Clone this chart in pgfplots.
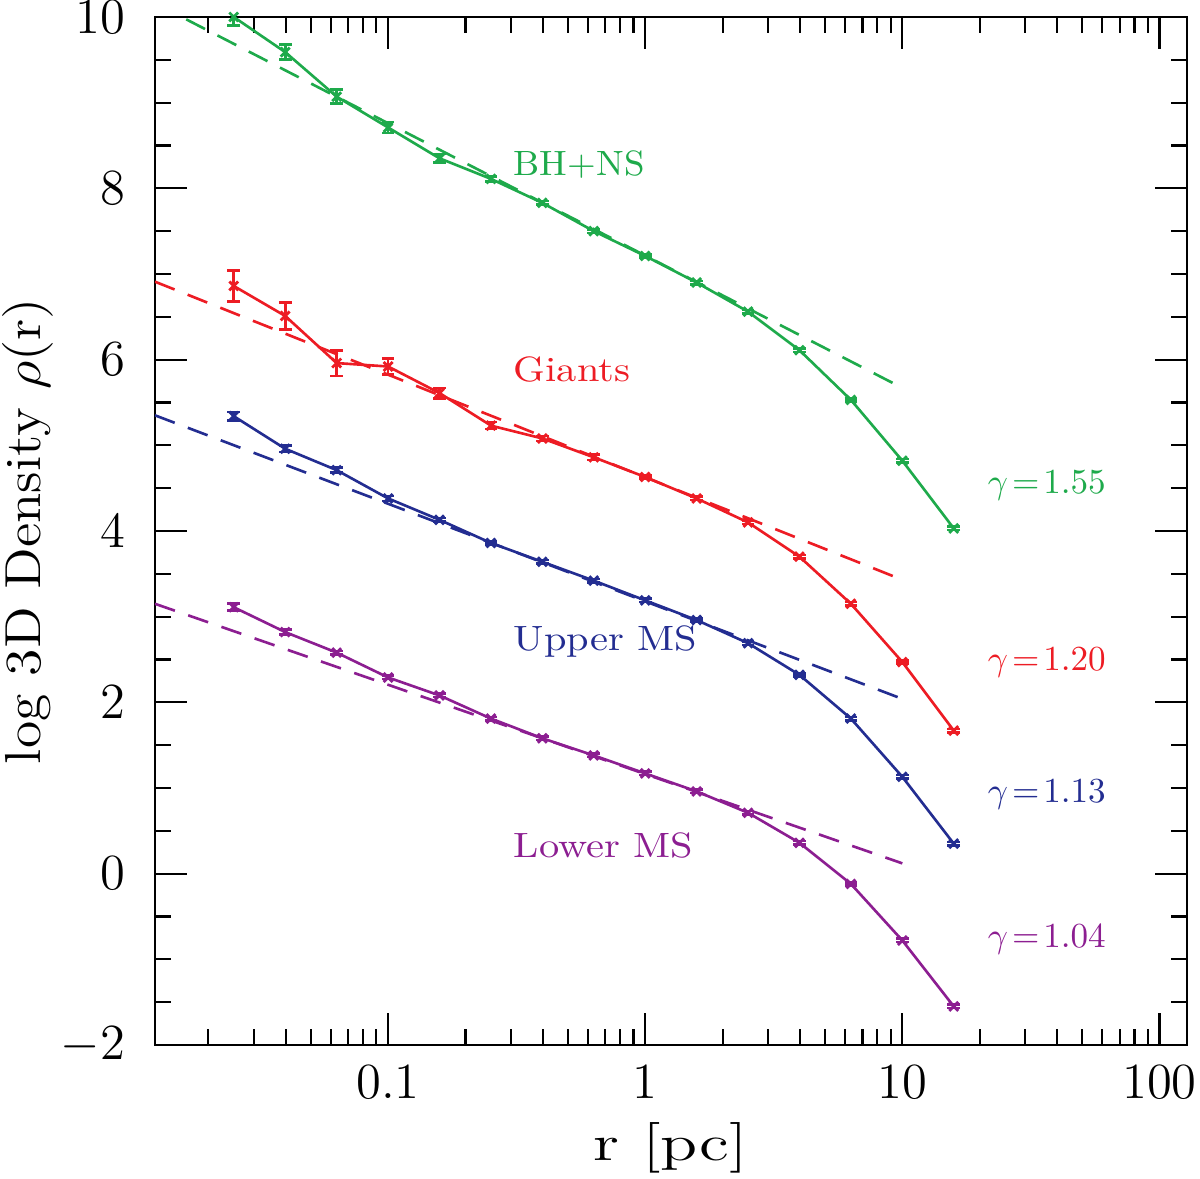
\documentclass[border=0pt]{standalone}
\usepackage{graphicx}
\usepackage{pgfplots}
\usepackage{pgfplotstable}
\pgfplotsset{compat=1.18}
\definecolor{cg}{RGB}{30,170,75}
\definecolor{cr}{RGB}{237,28,36}
\definecolor{cb}{RGB}{35,45,145}
\definecolor{cp}{RGB}{140,30,145}

\pgfplotstableread{
x y e
0.0251 10.00 0.10
0.0398 9.59 0.09
0.0631 9.07 0.08
0.1000 8.71 0.065
0.1585 8.35 0.05
0.2512 8.11 0.03
0.3981 7.83 0.02
0.6310 7.50 0.02
1.0000 7.21 0.02
1.5850 6.90 0.02
2.5120 6.56 0.02
3.9810 6.11 0.02
6.3100 5.53 0.02
10.000 4.82 0.02
15.850 4.03 0.02
}\green

\pgfplotstableread{
x y e
0.0251 6.86 0.18
0.0398 6.51 0.16
0.0631 5.96 0.15
0.1000 5.92 0.09
0.1585 5.61 0.06
0.2512 5.23 0.04
0.3981 5.08 0.03
0.6310 4.86 0.03
1.0000 4.63 0.02
1.5850 4.38 0.02
2.5120 4.10 0.02
3.9810 3.70 0.02
6.3100 3.15 0.02
10.000 2.47 0.02
15.850 1.67 0.02
}\red

\pgfplotstableread{
x y e
0.0251 5.34 0.05
0.0398 4.96 0.04
0.0631 4.71 0.03
0.1000 4.38 0.03
0.1585 4.13 0.02
0.2512 3.86 0.02
0.3981 3.64 0.02
0.6310 3.42 0.02
1.0000 3.19 0.02
1.5850 2.96 0.02
2.5120 2.69 0.02
3.9810 2.32 0.02
6.3100 1.81 0.02
10.000 1.13 0.02
15.850 0.35 0.02
}\blue

\pgfplotstableread{
x y e
0.0251 3.11 0.04
0.0398 2.82 0.03
0.0631 2.58 0.02
0.1000 2.29 0.02
0.1585 2.08 0.02
0.2512 1.81 0.02
0.3981 1.58 0.02
0.6310 1.38 0.02
1.0000 1.17 0.02
1.5850 0.96 0.02
2.5120 0.71 0.02
3.9810 0.36 0.02
6.3100 -0.12 0.02
10.000 -0.78 0.02
15.850 -1.55 0.02
}\purple

\pgfplotsset{
  prof/.style={#1, line width=0.75pt, mark=x, mark size=1.8pt,
    mark options={solid, line width=0.8pt},
    error bars/.cd, y dir=both, y explicit,
    error bar style={line width=0.75pt},
    error mark options={#1, rotate=90, mark size=1.8pt, line width=0.75pt}},
  fit/.style={#1, line width=0.75pt, dash pattern=on 6pt off 4pt},
}

\begin{document}
\begin{tikzpicture}
\useasboundingbox (-1.55cm,-1.34cm) rectangle (10.45cm,10.45cm);
\begin{axis}[
  at={(0,0)}, anchor=south west,
  scale only axis, width=10.32cm, height=10.28cm,
  xmode=log, xmin=0.0124, xmax=128, ymin=-2, ymax=10,
  xtick={0.1,1,10,100}, xticklabels={0.1,1,10,100},
  minor xtick={0.02,0.03,0.04,0.05,0.06,0.07,0.08,0.09,0.2,0.3,0.4,0.5,0.6,0.7,0.8,0.9,2,3,4,5,6,7,8,9,20,30,40,50,60,70,80,90},
  ytick={-2,0,2,4,6,8,10}, minor y tick num=3,
  tick align=inside, major tick length=9pt, minor tick length=4.5pt,
  tick style={black, line width=0.6pt},
  axis line style={line width=0.7pt},
  tick label style={font=\Large},
  yticklabel style={inner sep=0pt},
  xticklabel shift=2pt, yticklabel shift=8.3pt,
  xlabel={\scalebox{1.35}[1]{r [pc]}}, ylabel={\scalebox{1.1}[1]{log 3D Density $\rho$(r)}},
  label style={font=\Large},
  xlabel style={at={(axis description cs:0.5,-0.100)}, anchor=center},
  ylabel style={at={(axis description cs:-0.123,0.5)}, anchor=center},
  clip=true,
]
\addplot[fit=cg] coordinates {(0.0124,10.16) (10,5.67)};
\addplot[fit=cr] coordinates {(0.0124,6.91) (10,3.43)};
\addplot[fit=cb] coordinates {(0.0124,5.35) (10,2.04)};
\addplot[fit=cp] coordinates {(0.0124,3.15) (10,0.12)};

\addplot[prof=cg] table[x=x, y=y, y error=e] {\green};
\addplot[prof=cr] table[x=x, y=y, y error=e] {\red};
\addplot[prof=cb] table[x=x, y=y, y error=e] {\blue};
\addplot[prof=cp] table[x=x, y=y, y error=e] {\purple};

\node[cg, anchor=base west, inner sep=0pt] at (axis cs:0.3064,8.145) {\scalebox{1.05}[1]{BH+NS}};
\node[cr, anchor=base west, inner sep=0pt] at (axis cs:0.3064,5.75) {\scalebox{1.15}[1]{Giants}};
\node[cb, anchor=base west, inner sep=0pt] at (axis cs:0.3064,2.60) {\scalebox{1.15}[1]{Upper MS}};
\node[cp, anchor=base west, inner sep=0pt] at (axis cs:0.3064,0.187) {\scalebox{1.15}[1]{Lower MS}};

\node[cg, anchor=base west, inner sep=0pt] at (axis cs:21.4,4.434) {$\gamma\!=\!1.55$};
\node[cr, anchor=base west, inner sep=0pt] at (axis cs:21.4,2.369) {$\gamma\!=\!1.20$};
\node[cb, anchor=base west, inner sep=0pt] at (axis cs:21.4,0.828) {$\gamma\!=\!1.13$};
\node[cp, anchor=base west, inner sep=0pt] at (axis cs:21.4,-0.863) {$\gamma\!=\!1.04$};
\end{axis}
\end{tikzpicture}
\end{document}
